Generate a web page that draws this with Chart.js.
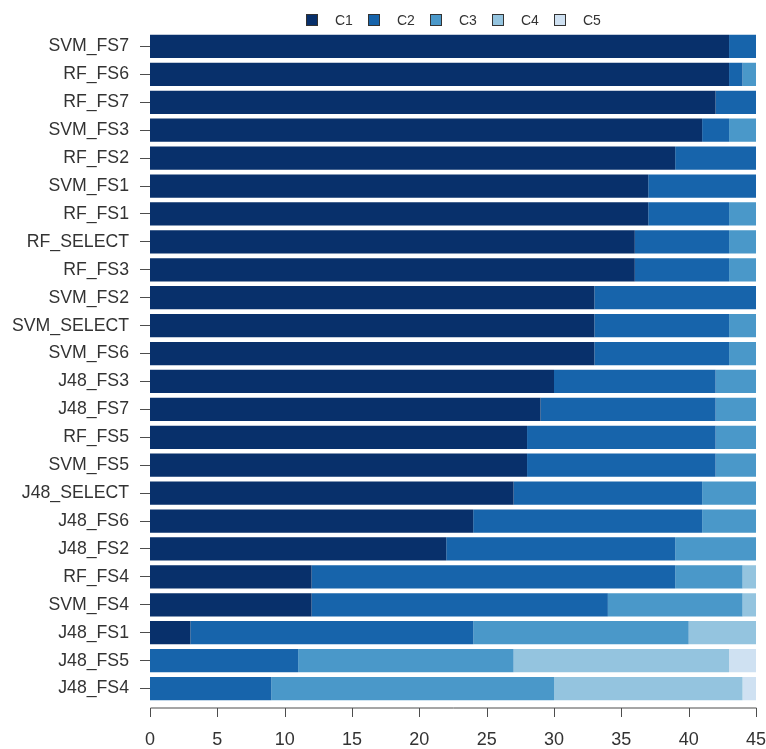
<!DOCTYPE html>
<html>
<head>
<meta charset="utf-8">
<script src="https://cdn.jsdelivr.net/npm/chart.js@4/dist/chart.umd.min.js"></script>
<style>
  html, body { margin: 0; padding: 0; background: #ffffff; }
  #wrap { width: 766px; height: 749px; position: relative; }
</style>
</head>
<body>
<div id="wrap"><canvas id="chart" width="766" height="749"></canvas></div>
<script>
// Classifier / feature-set combinations, top to bottom
const categories = [
  'SVM_FS7', 'RF_FS6', 'RF_FS7', 'SVM_FS3', 'RF_FS2', 'SVM_FS1', 'RF_FS1',
  'RF_SELECT', 'RF_FS3', 'SVM_FS2', 'SVM_SELECT', 'SVM_FS6', 'J48_FS3',
  'J48_FS7', 'RF_FS5', 'SVM_FS5', 'J48_SELECT', 'J48_FS6', 'J48_FS2',
  'RF_FS4', 'SVM_FS4', 'J48_FS1', 'J48_FS5', 'J48_FS4'
];

// Counts per class for each combination
const c1 = [43, 43, 42, 41, 39, 37, 37, 36, 36, 33, 33, 33, 30, 29, 28, 28, 27, 24, 22, 12, 12, 3, 0, 0];
const c2 = [2, 1, 3, 2, 6, 8, 6, 7, 7, 12, 10, 10, 12, 13, 14, 14, 14, 17, 17, 27, 22, 21, 11, 9];
const c3 = [0, 1, 0, 2, 0, 0, 2, 2, 2, 0, 2, 2, 3, 3, 3, 3, 4, 4, 6, 5, 10, 16, 16, 21];
const c4 = [0, 0, 0, 0, 0, 0, 0, 0, 0, 0, 0, 0, 0, 0, 0, 0, 0, 0, 0, 1, 1, 5, 16, 14];
const c5 = [0, 0, 0, 0, 0, 0, 0, 0, 0, 0, 0, 0, 0, 0, 0, 0, 0, 0, 0, 0, 0, 0, 2, 1];

const seriesNames = ['C1', 'C2', 'C3', 'C4', 'C5'];
const seriesValues = [c1, c2, c3, c4, c5];
const seriesColors = ['#08306b', '#1764ab', '#4a98c9', '#94c4df', '#cfe1f2'];

const xTicks = [0, 5, 10, 15, 20, 25, 30, 35, 40, 45];

const FONT = '"Liberation Sans", Arial, Helvetica, sans-serif';

// Detached bottom axis: line from first to last tick, ticks pointing down
const bottomAxis = {
  id: 'bottomAxis',
  afterDraw(chart) {
    const { ctx, chartArea } = chart;
    const x = chart.scales.x;
    const y0 = chartArea.bottom + 5.5;
    ctx.save();
    ctx.strokeStyle = '#4d4d4d';
    ctx.lineWidth = 1;
    ctx.beginPath();
    ctx.moveTo(Math.round(x.getPixelForValue(xTicks[0])) + 0.5, y0);
    ctx.lineTo(Math.round(x.getPixelForValue(xTicks[xTicks.length - 1])) + 0.5, y0);
    xTicks.forEach(v => {
      const px = Math.round(x.getPixelForValue(v)) + 0.5;
      ctx.moveTo(px, y0);
      ctx.lineTo(px, y0 + 9);
    });
    ctx.stroke();
    ctx.restore();
  }
};

// Horizontal legend centred over the plotting region
const topLegend = {
  id: 'topLegend',
  afterDraw(chart) {
    const { ctx, chartArea } = chart;
    const box = 12, textOffset = 29, itemW = 62;
    ctx.save();
    ctx.font = '14px ' + FONT;
    const lastW = ctx.measureText(seriesNames[seriesNames.length - 1]).width;
    const total = itemW * (seriesNames.length - 1) + textOffset + lastW;
    let x = Math.round((chartArea.left + chartArea.right) / 2 - total / 2);
    const cy = 20;
    ctx.textBaseline = 'middle';
    ctx.textAlign = 'left';
    seriesNames.forEach((name, i) => {
      const bx = Math.round(x), by = Math.round(cy - box / 2);
      ctx.fillStyle = seriesColors[i];
      ctx.fillRect(bx, by, box, box);
      ctx.strokeStyle = '#333333';
      ctx.lineWidth = 1;
      ctx.strokeRect(bx + 0.5, by + 0.5, box - 1, box - 1);
      ctx.fillStyle = '#333333';
      ctx.fillText(name, x + textOffset, cy + 1);
      x += itemW;
    });
    ctx.restore();
  }
};

new Chart(document.getElementById('chart'), {
  type: 'bar',
  data: {
    labels: categories,
    datasets: seriesNames.map((name, i) => ({
      label: name,
      data: seriesValues[i],
      backgroundColor: seriesColors[i],
      borderWidth: 0,
      barPercentage: 0.83,
      categoryPercentage: 1.0
    }))
  },
  options: {
    indexAxis: 'y',
    responsive: false,
    animation: false,
    devicePixelRatio: 1,
    layout: { padding: { top: 32.5, right: 10, left: 0, bottom: 0 } },
    plugins: {
      legend: { display: false },
      tooltip: { enabled: false }
    },
    scales: {
      x: {
        stacked: true,
        min: 0,
        max: 45,
        afterBuildTicks(scale) { scale.ticks = xTicks.map(v => ({ value: v })); },
        afterFit(scale) {
          scale.height = 46.5;
          scale.paddingLeft = 0;
          scale.paddingRight = 0;
        },
        grid: { display: false },
        border: { display: false },
        ticks: {
          padding: 19,
          color: '#333333',
          font: { family: FONT, size: 18 },
          maxRotation: 0
        }
      },
      y: {
        stacked: true,
        afterFit(scale) {
          scale.width = 150;
          scale.paddingTop = 0;
          scale.paddingBottom = 0;
        },
        grid: {
          offset: false,
          drawOnChartArea: false,
          drawTicks: true,
          tickLength: 10,
          color: '#4d4d4d'
        },
        border: { display: false },
        ticks: {
          padding: 11,
          color: '#333333',
          font: { family: FONT, size: 17.7 },
          autoSkip: false
        }
      }
    }
  },
  plugins: [bottomAxis, topLegend]
});
</script>
</body>
</html>
